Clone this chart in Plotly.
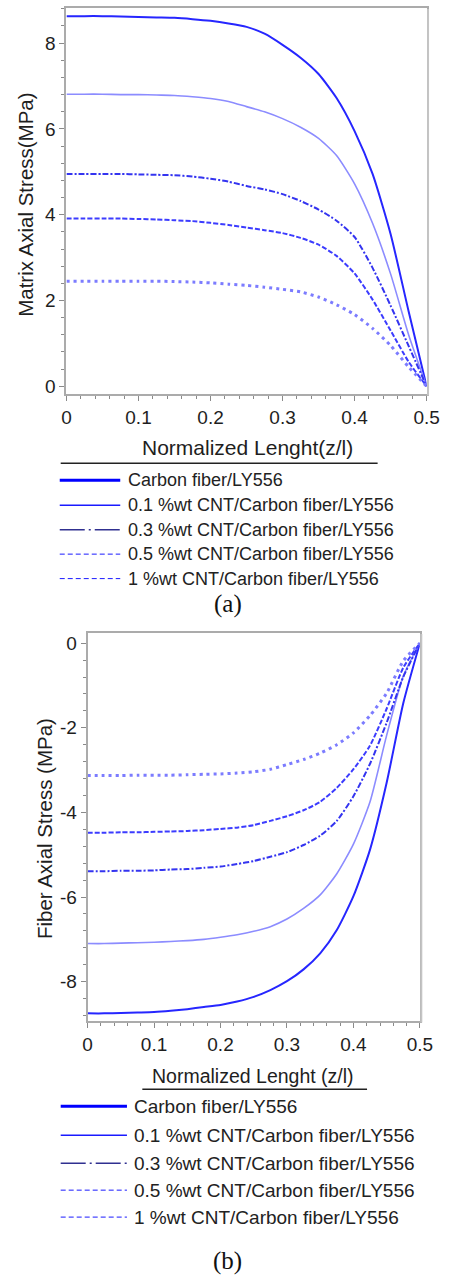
import plotly.graph_objects as go

W, H = 454, 1284

# ---------------- data ----------------
z = [0, 0.025, 0.05, 0.075, 0.1, 0.125, 0.15, 0.175, 0.2, 0.225, 0.25,
     0.275, 0.3, 0.325, 0.35, 0.375, 0.4, 0.425, 0.45, 0.475, 0.5]

series_names = [
    "Carbon fiber/LY556",
    "0.1 %wt CNT/Carbon fiber/LY556",
    "0.3 %wt CNT/Carbon fiber/LY556",
    "0.5 %wt CNT/Carbon fiber/LY556",
    "1 %wt CNT/Carbon fiber/LY556",
]

matrix_cf = [8.63, 8.63, 8.63, 8.62, 8.61, 8.60, 8.59, 8.56, 8.52, 8.46, 8.38,
             8.22, 7.96, 7.66, 7.28, 6.72, 5.95, 4.95, 3.55, 1.75, 0.0]
matrix_01 = [6.81, 6.81, 6.81, 6.80, 6.80, 6.79, 6.78, 6.75, 6.71, 6.64, 6.52,
             6.40, 6.24, 6.04, 5.78, 5.38, 4.72, 3.80, 2.62, 1.20, 0.0]
matrix_03 = [4.95, 4.95, 4.95, 4.95, 4.94, 4.93, 4.92, 4.89, 4.84, 4.77, 4.67,
             4.59, 4.48, 4.32, 4.12, 3.86, 3.48, 2.76, 1.88, 0.94, 0.0]
matrix_05 = [3.91, 3.91, 3.91, 3.91, 3.90, 3.89, 3.87, 3.85, 3.81, 3.76, 3.70,
             3.64, 3.57, 3.46, 3.30, 3.04, 2.63, 2.02, 1.30, 0.57, 0.0]
matrix_1 = [2.45, 2.45, 2.45, 2.45, 2.45, 2.45, 2.44, 2.43, 2.41, 2.38, 2.35,
            2.31, 2.26, 2.20, 2.08, 1.90, 1.67, 1.35, 0.95, 0.45, 0.0]

fiber_cf = [-8.75, -8.75, -8.74, -8.73, -8.72, -8.69, -8.65, -8.60, -8.55, -8.47, -8.36,
            -8.20, -7.99, -7.71, -7.33, -6.78, -5.98, -4.88, -3.30, -1.42, 0.0]
fiber_01 = [-7.10, -7.10, -7.09, -7.08, -7.07, -7.05, -7.03, -7.00, -6.95, -6.89, -6.81,
            -6.70, -6.52, -6.27, -5.95, -5.45, -4.75, -3.75, -2.18, -0.78, 0.0]
fiber_03 = [-5.39, -5.39, -5.38, -5.38, -5.37, -5.35, -5.34, -5.31, -5.28, -5.22, -5.15,
            -5.05, -4.94, -4.77, -4.55, -4.20, -3.62, -2.85, -1.88, -0.80, 0.0]
fiber_05 = [-4.48, -4.48, -4.47, -4.47, -4.46, -4.45, -4.44, -4.42, -4.39, -4.36, -4.30,
            -4.20, -4.09, -3.95, -3.75, -3.42, -2.98, -2.42, -1.55, -0.58, 0.0]
fiber_1 = [-3.13, -3.13, -3.13, -3.12, -3.12, -3.12, -3.11, -3.10, -3.09, -3.07, -3.04,
           -2.98, -2.87, -2.75, -2.60, -2.40, -2.12, -1.71, -1.18, -0.42, 0.0]

x_ticks = [0, 0.1, 0.2, 0.3, 0.4, 0.5]
x_ticktext = ["0", "0.1", "0.2", "0.3", "0.4", "0.5"]
ya_ticks = [0, 2, 4, 6, 8]
ya_ticktext = ["0", "2", "4", "6", "8"]
yb_ticks = [-8, -6, -4, -2, 0]
yb_ticktext = ["-8", "-6", "-4", "-2", "0"]

# ---------------- styles ----------------
curve_styles = [
    dict(color="#2626ff", width=2.0, dash="solid"),
    dict(color="#8c8cff", width=1.6, dash="solid"),
    dict(color="#3434f0", width=2.0, dash="6px,2px,2px,2px"),
    dict(color="#3c3cff", width=2.0, dash="5px,2px"),
    dict(color="#7c7cff", width=3.0, dash="3px,4px"),
]
legend_styles = [
    dict(color="#0000ff", width=3.0, dash="solid"),
    dict(color="#1a1aff", width=1.5, dash="solid"),
    dict(color="#303090", width=1.5, dash="25px,4px,2px,4px"),
    dict(color="#1a1aff", width=1.0, dash="5px,3px"),
    dict(color="#1a1aff", width=1.0, dash="5px,3px"),
]

def px(x):
    return x / W

def py(y):
    return 1 - y / H

fig = go.Figure()

matrix_sets = [matrix_cf, matrix_01, matrix_03, matrix_05, matrix_1]
fiber_sets = [fiber_cf, fiber_01, fiber_03, fiber_05, fiber_1]

for name, vals, st in zip(series_names, matrix_sets, curve_styles):
    fig.add_trace(go.Scatter(x=z, y=vals, mode="lines", name=name, showlegend=False,
                             line=dict(color=st["color"], width=st["width"], dash=st["dash"], shape="spline", smoothing=0.6),
                             xaxis="x", yaxis="y"))
for name, vals, st in zip(series_names, fiber_sets, curve_styles):
    fig.add_trace(go.Scatter(x=z, y=vals, mode="lines", name=name, showlegend=False,
                             line=dict(color=st["color"], width=st["width"], dash=st["dash"], shape="spline", smoothing=0.6),
                             xaxis="x2", yaxis="y2"))

sans = "Liberation Sans, Arial, sans-serif"
tickfont = dict(family=sans, size=19, color="#1e1e1e")
axis_common = dict(showline=True, mirror=True, linecolor="#ababab", linewidth=2,
                   ticks="outside", ticklen=5, tickcolor="#8a8a8a", tickwidth=1,
                   showgrid=False, zeroline=False, tickfont=tickfont)

fig.update_layout(
    width=W, height=H,
    margin=dict(l=0, r=0, t=0, b=0),
    paper_bgcolor="white", plot_bgcolor="white",
    showlegend=False,
    xaxis=dict(domain=[px(64), px(439)], range=[0, 0.5], tickvals=x_ticks, ticktext=x_ticktext,
               minor=dict(ticks="outside", ticklen=3, dtick=0.02, tickcolor="#8a8a8a"),
               anchor="y", **axis_common),
    yaxis=dict(domain=[py(395), py(8)], range=[-0.19, 8.82], tickvals=ya_ticks, ticktext=ya_ticktext,
               minor=dict(ticks="outside", ticklen=3, dtick=0.4, tickcolor="#8a8a8a"),
               anchor="x", **axis_common),
    xaxis2=dict(domain=[px(86), px(432)], range=[0, 0.5], tickvals=x_ticks, ticktext=x_ticktext,
                minor=dict(ticks="outside", ticklen=3, dtick=0.02, tickcolor="#8a8a8a"),
                anchor="y2", **axis_common),
    yaxis2=dict(domain=[py(1023), py(634)], range=[-8.94, 0.24], tickvals=yb_ticks, ticktext=yb_ticktext,
                minor=dict(ticks="outside", ticklen=3, dtick=0.4, tickcolor="#8a8a8a"),
                anchor="x2", **axis_common),
)

shapes = []
annotations = []

def note(text, x, y, size, xanchor="center", angle=0, family=sans, color="#1e1e1e"):
    annotations.append(dict(text=text, x=px(x), y=py(y), xref="paper", yref="paper",
                            xanchor=xanchor, yanchor="middle", textangle=angle, showarrow=False,
                            font=dict(family=family, size=size, color=color)))

# frame shadows on right side
shapes.append(dict(type="line", xref="paper", yref="paper", x0=px(440.5), x1=px(440.5), y0=py(396), y1=py(9),
                   line=dict(color="#c4c4c4", width=2)))
shapes.append(dict(type="line", xref="paper", yref="paper", x0=px(433.5), x1=px(433.5), y0=py(1024), y1=py(635),
                   line=dict(color="#c4c4c4", width=2)))

# axis titles
note("Matrix Axial Stress(MPa)", 22, 205, 20.5, angle=-90)
note("Normalized Lenght(z/l)", 252, 448, 21)
note("Fiber Axial Stress (MPa)", 41, 830, 20.5, angle=-90)
note("Normalized Lenght (z/l)", 258, 1078, 19.5)

# underlines
shapes.append(dict(type="line", xref="paper", yref="paper", x0=px(58), x1=px(388), y0=py(464), y1=py(464),
                   line=dict(color="#222222", width=1.5)))
shapes.append(dict(type="line", xref="paper", yref="paper", x0=px(143), x1=px(377), y0=py(1091), y1=py(1091),
                   line=dict(color="#222222", width=1.5)))

# legends
leg_a_y = [481, 506, 530.5, 555, 579.5]
leg_b_y = [1108, 1137, 1165, 1192, 1219]
for name, st, ya, yb in zip(series_names, legend_styles, leg_a_y, leg_b_y):
    shapes.append(dict(type="line", xref="paper", yref="paper", x0=px(57), x1=px(120), y0=py(ya), y1=py(ya),
                       line=dict(color=st["color"], width=st["width"], dash=st["dash"])))
    note(name, 126, ya, 18, xanchor="left", color="#222222")
    shapes.append(dict(type="line", xref="paper", yref="paper", x0=px(58), x1=px(127), y0=py(yb), y1=py(yb),
                       line=dict(color=st["color"], width=st["width"], dash=st["dash"])))
    note(name, 132, yb, 19, xanchor="left", color="#222222")

# panel labels
serif = "Liberation Serif, Times New Roman, serif"
note("(a)", 232, 605, 25, family=serif, color="#111111")
note("(b)", 232, 1263, 25, family=serif, color="#111111")

fig.update_layout(shapes=shapes, annotations=annotations)

fig.write_html("out.html", config=dict(displayModeBar=False),
               post_script="document.body.style.margin='0';document.body.style.overflow='hidden';")
